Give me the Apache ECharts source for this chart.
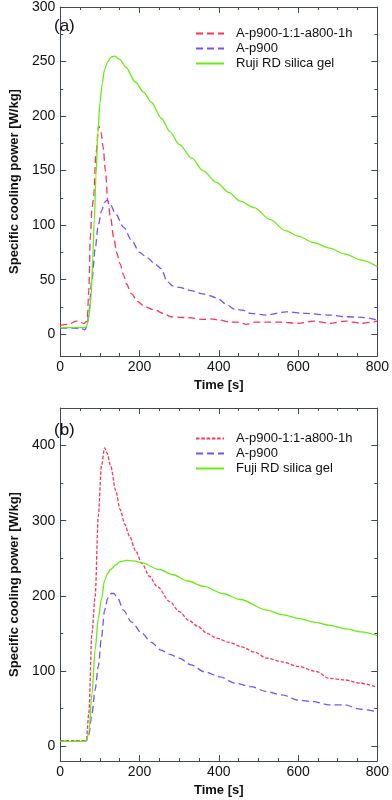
<!DOCTYPE html>
<html>
<head>
    <meta charset="utf-8">
    <script src="https://cdn.jsdelivr.net/npm/echarts@6/dist/echarts.min.js"></script>
</head>
<body style="margin:0;background:#fff">
<div id="main" style="width:392px;height:800px;"></div>
<script type="text/javascript">
    // (a)
    var timeRedA = [0, 20, 40, 50, 60, 68, 72, 76, 80, 84, 90, 97, 103, 108, 114, 120, 127, 135, 143, 151, 160, 167, 180, 195, 214, 240, 260, 280, 300, 330, 360, 380, 400, 430, 450, 470, 490, 520, 560, 600, 640, 680, 720, 760, 800];
    var powerRedA = [8, 9, 12, 11, 10, 12, 40, 90, 115, 125, 165, 191, 185, 172, 150, 122, 107, 88, 74, 64.5, 54, 46, 37, 30, 25, 22, 19, 16, 15.5, 15, 13.5, 14, 13, 11, 11, 9, 11, 11, 11, 10, 12, 10, 12, 10, 12];
    var timeBlueA = [0, 30, 55, 62, 68, 72, 80, 88, 96, 104, 112, 118, 125, 140, 160, 180, 200, 220, 240, 255, 270, 285, 300, 330, 360, 380, 400, 420, 440, 460, 480, 520, 570, 620, 680, 720, 760, 800];
    var powerBlueA = [5.5, 5.5, 5, 4, 8, 20, 50, 78, 100, 113, 121, 123, 120, 110, 98, 86, 75, 70, 64, 60, 48, 44, 43, 40, 37, 35, 32, 27, 23, 22, 19, 17.5, 20.5, 19, 17.5, 16, 15.5, 13];
    var timeGreenA = [0, 30, 60, 66, 72, 78, 82, 86, 90, 95, 100, 106, 112, 120, 128, 137, 150, 165, 190, 210, 230, 255, 277, 300, 332, 360, 395, 425, 454, 489, 530, 568, 600, 639, 680, 717, 760, 800];
    var powerGreenA = [6, 6, 6, 7, 15, 35, 70, 105, 145, 185, 212, 230, 243, 250, 254, 255, 252, 245, 231, 222, 212.6, 198, 185.5, 174, 161.4, 150, 139, 130, 122, 116, 105, 95, 90, 84, 79, 73.6, 68, 62];

    // (b)
    var timeRedB = [0, 30, 60, 66, 72, 80, 88, 96, 104, 112, 118, 127, 140, 151, 163, 175, 190, 206, 225, 245, 277, 300, 325, 348, 370, 395, 426, 458, 490, 521, 560, 600, 647, 678, 717, 757, 800];
    var powerRedB = [7, 7, 7, 9, 43, 150, 199, 306, 373, 397, 390, 373, 340, 315, 295, 279, 260, 243, 226, 212, 192, 179, 167, 159, 150, 143.5, 138, 132, 125, 117, 112, 106, 99, 90, 88, 83.6, 78];
    var timeBlueB = [0, 30, 60, 66, 72, 80, 88, 96, 104, 112, 120, 128, 135, 145, 159, 180, 206, 230, 253, 277, 300, 330, 363, 403, 442, 481, 521, 560, 600, 639, 678, 717, 757, 800];
    var powerBlueB = [6, 6, 6, 7, 15, 43, 75, 106, 145, 181, 197, 203, 203, 197, 181, 165, 150, 138, 128, 122, 117, 108, 99, 92, 83.6, 79, 72.4, 68, 61, 59, 54.7, 54.7, 49, 45.5];
    var timeGreenB = [0, 30, 60, 66, 72, 80, 88, 96, 104, 112, 120, 127, 140, 150, 167, 185, 206, 250, 285, 320, 363, 410, 454, 521, 560, 600, 640, 678, 720, 760, 800];
    var powerGreenB = [6, 6, 6, 8, 17, 70, 128, 170, 195, 221, 230, 235, 241, 245, 247, 246.5, 243.7, 235, 228, 220, 212.5, 203, 195, 181, 175, 170, 165, 161, 156, 152, 147];

    var yLabelsA = [0, 50, 100, 150, 200, 250, 300];
    var yMinorA = [25, 75, 125, 175, 225, 275];
    var yLabelsB = [0, 100, 200, 300, 400];
    var yMinorB = [50, 150, 250, 350, 450];

    var RED = '#ff3355', BLUE = '#7452ff', GREEN = '#66ee11';
    var AXIS = '#3e475c';
    var FONT = '"Liberation Sans", Arial, sans-serif';

    function pairs(t, v) {
        return t.map(function (x, i) { return [x, v[i]]; });
    }

    function xAxes(g) {
        var base = {
            gridIndex: g, type: 'value', min: 0, max: 800, interval: 200,
            axisLine: {onZero: false, lineStyle: {color: AXIS, width: 1}},
            axisTick: {inside: true, length: 6, lineStyle: {color: AXIS}},
            minorTick: {show: true, splitNumber: 4, length: 3, lineStyle: {color: AXIS}},
            splitLine: {show: false}
        };
        var bottom = Object.assign({}, base, {
            position: 'bottom',
            axisLabel: {fontSize: 14, color: '#111', margin: 4, fontFamily: FONT},
            name: 'Time [s]', nameLocation: 'middle', nameGap: 23,
            nameTextStyle: {fontSize: 13, fontWeight: 'bold', color: '#111', fontFamily: FONT}
        });
        var top = Object.assign({}, base, {position: 'top', axisLabel: {show: false}});
        return [bottom, top];
    }

    function yAxes(g, min, max, major, minor) {
        var list = [];
        ['left', 'right'].forEach(function (pos) {
            var main = {
                gridIndex: g, type: 'value', min: min, max: max, position: pos,
                axisLine: {show: true, onZero: false, lineStyle: {color: AXIS, width: 1}},
                axisTick: {show: true, inside: true, length: 6, customValues: major, lineStyle: {color: AXIS}},
                axisLabel: {show: pos === 'left', customValues: major, fontSize: 14, color: '#111', margin: 5, fontFamily: FONT},
                splitLine: {show: false}
            };
            if (pos === 'left') {
                main.name = 'Specific cooling power [W/kg]';
                main.nameLocation = 'middle';
                main.nameGap = 32;
                main.nameTextStyle = {fontSize: 13, fontWeight: 'bold', color: '#111', fontFamily: FONT};
            }
            list.push(main);
            list.push({
                gridIndex: g, type: 'value', min: min, max: max, position: pos,
                axisLine: {show: false, onZero: false},
                axisTick: {show: true, inside: true, length: 3, customValues: minor, lineStyle: {color: AXIS}},
                axisLabel: {show: false},
                splitLine: {show: false}
            });
        });
        return list;
    }

    function line(name, data, color, dash, xi, yi) {
        return {
            type: 'line', name: name, data: data, xAxisIndex: xi, yAxisIndex: yi,
            symbol: 'none', smooth: 0.3, smoothMonotone: 'x',
            lineStyle: {color: color, width: 1.3, type: dash},
            itemStyle: {color: color}
        };
    }

    var myChart = echarts.init(document.getElementById('main'));

    var legendBase = {
        orient: 'vertical', left: 195, padding: 0,
        itemWidth: 28, itemHeight: 14, itemGap: 2,
        itemStyle: {opacity: 0},
        textStyle: {fontSize: 13, color: '#111', fontFamily: FONT, padding: [0, 0, 0, 7]}
    };

    var option = {
        animation: false,
        backgroundColor: '#fff',
        textStyle: {fontFamily: FONT},
        title: [
            {text: '(a)', left: 54, top: 18, padding: 0, textStyle: {fontSize: 17, fontWeight: 'normal', color: '#111', fontFamily: FONT}},
            {text: '(b)', left: 54, top: 422, padding: 0, textStyle: {fontSize: 17, fontWeight: 'normal', color: '#111', fontFamily: FONT}}
        ],
        grid: [
            {left: 46, right: 7, top: 4, height: 352},
            {left: 46, right: 7, top: 408, height: 353}
        ],
        legend: [
            Object.assign({}, legendBase, {
                top: 27,
                data: ['A-p900-1:1-a800-1h', 'A-p900', 'Ruji RD silica gel']
            }),
            Object.assign({}, legendBase, {
                top: 432,
                data: [
                    {name: 'A-p900-1:1-a800-1h', lineStyle: {type: [3.5, 1.8]}},
                    'A-p900', 'Fuji RD silica gel'
                ]
            })
        ],
        xAxis: xAxes(0).concat(xAxes(1)),
        yAxis: yAxes(0, -20, 300, yLabelsA, yMinorA).concat(yAxes(1, -20, 450, yLabelsB, yMinorB)),
        series: [
            line('A-p900-1:1-a800-1h', pairs(timeRedA, powerRedA), RED, [7, 4], 0, 0),
            line('A-p900', pairs(timeBlueA, powerBlueA), BLUE, [7, 4], 0, 0),
            line('Ruji RD silica gel', pairs(timeGreenA, powerGreenA), GREEN, 'solid', 0, 0),
            line('A-p900-1:1-a800-1h', pairs(timeRedB, powerRedB), RED, [3.5, 1.8], 2, 4),
            line('A-p900', pairs(timeBlueB, powerBlueB), BLUE, [7, 4], 2, 4),
            line('Fuji RD silica gel', pairs(timeGreenB, powerGreenB), GREEN, 'solid', 2, 4)
        ]
    };

    myChart.setOption(option);
</script>
</body>
</html>
